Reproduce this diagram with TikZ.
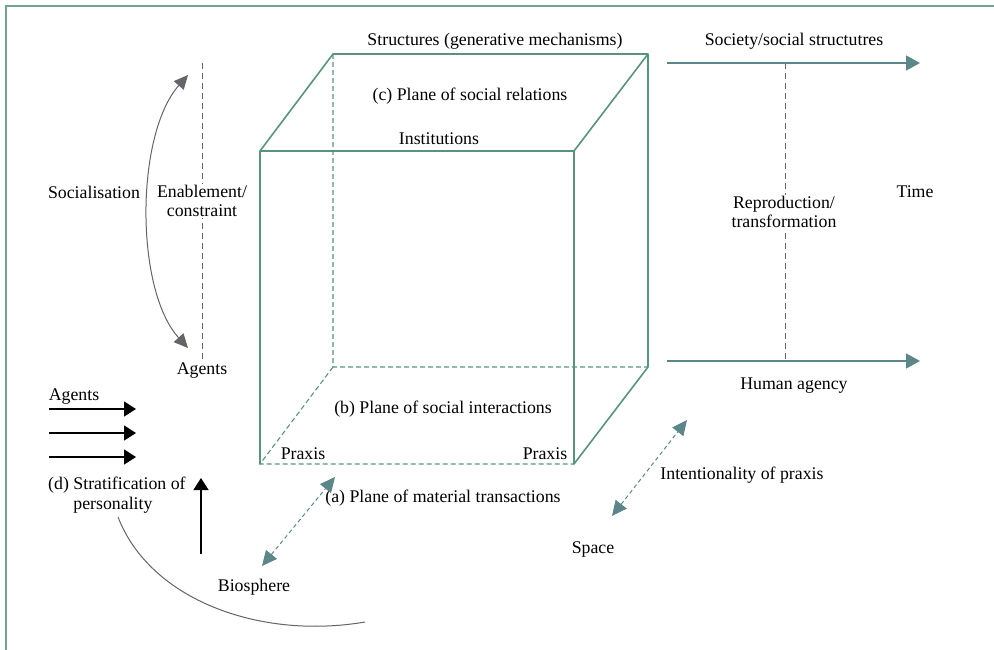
\documentclass[tikz,border=0pt]{standalone}
\usepackage{fontspec}
\setmainfont{Liberation Serif}
\usetikzlibrary{arrows.meta}
\definecolor{cubegreen}{RGB}{88,148,124}
\definecolor{arrowteal}{RGB}{92,135,138}
\definecolor{framegreen}{RGB}{110,165,145}
\definecolor{linegray}{RGB}{100,100,105}

\begin{document}
\begin{tikzpicture}[x=1pt,y=-1pt,
	lbl/.style={font=\fontsize{17.8}{19.5}\selectfont, inner sep=1pt, align=center},
	cube/.style={draw=cubegreen, line width=1.6pt, line join=round},
	hidden/.style={draw=cubegreen, line width=1.1pt, dash pattern=on 5pt off 3pt},
	flow/.style={draw=arrowteal, line width=1.7pt, -{Triangle[length=14pt,width=15pt]}},
	link/.style={draw=arrowteal, line width=1pt, dash pattern=on 4pt off 3pt,
		{Triangle[length=15pt,width=14pt]}-{Triangle[length=15pt,width=14pt]}},
	push/.style={draw=black, line width=1.4pt, -{Triangle[length=12pt,width=15pt]}},
	guide/.style={draw=linegray, line width=0.9pt, dash pattern=on 6pt off 4pt},
	curveline/.style={draw=linegray, line width=1pt}]
	\useasboundingbox (0,0) rectangle (994,650);
	\draw[framegreen, line width=1.5pt] (6,650) -- (6,6) -- (994,6);

	\coordinate (ftl) at (260,151); \coordinate (ftr) at (574,151);
	\coordinate (fbl) at (260,464); \coordinate (fbr) at (574,464);
	\coordinate (btl) at (333,54);  \coordinate (btr) at (648,54);
	\coordinate (bbl) at (333,367); \coordinate (bbr) at (648,367);
	\draw[hidden] (btl) -- (bbl) -- (bbr) (bbl) -- (fbl) -- (fbr);
	\draw[cube] (fbl) -- (ftl) -- (ftr) -- (fbr) -- (bbr) -- (btr) -- (btl) -- (ftl);
	\draw[cube] (ftr) -- (btr);

	\node[lbl] (struct) at (495,41) {Structures (generative mechanisms)};
	\node[lbl] (planec) at (470,96) {(c) Plane of social relations};
	\node[lbl] (inst) at (439,139) {Institutions};
	\node[lbl] (planeb) at (443,409) {(b) Plane of social interactions};
	\node[lbl] (praxl) at (303,454) {Praxis};
	\node[lbl] (praxr) at (545,454) {Praxis};
	\node[lbl] (planea) at (443,498) {(a) Plane of material transactions};
	\node[lbl] (bio) at (254,587) {Biosphere};
	\node[lbl] (space) at (593,549) {Space};
	\node[lbl] (intent) at (742,475) {Intentionality of praxis};

	\coordinate (s0) at (667,63); \coordinate (s1) at (920,63);
	\coordinate (h0) at (667,361); \coordinate (h1) at (920,361);
	\coordinate (r0) at (785,63); \coordinate (r1) at (785,361);
	\draw[guide] (r0) -- (r1);
	\draw[flow] (s0) -- (s1);
	\draw[flow] (h0) -- (h1);
	\node[lbl] (society) at (794,41) {Society/social structutres};
	\node[lbl] (human) at (794,386) {Human agency};
	\node[lbl,fill=white] (repro) at (784,212) {Reproduction/\\transformation};
	\node[lbl] (time) at (915,192) {Time};

	\coordinate (e0) at (202,63); \coordinate (e1) at (202,360);
	\draw[guide] (e0) -- (e1);
	\node[lbl] (social) at (94,192) {Socialisation};
	\node[lbl,fill=white] (enable) at (202,201) {Enablement/\\constraint};
	\node[lbl] (agtop) at (202,371) {Agents};
	\coordinate (a0) at (188,75); \coordinate (a1) at (188,348);
	\draw[curveline, {Triangle[length=14pt,width=13pt]}-{Triangle[length=14pt,width=13pt]}]
		(a0) .. controls (135,135) and (135,290) .. (a1);

	\node[lbl] (agleft) at (74,397) {Agents};
	\foreach \y in {409,433,457}
		\draw[push] (49,\y) -- (136,\y);
	\node[lbl,align=left,anchor=west] (strat) at (47,495) {(d) Stratification of\\\phantom{(d) }personality};
	\coordinate (u0) at (201,554); \coordinate (u1) at (201,478);
	\draw[push] (u0) -- (u1);
	\coordinate (c0) at (118,517); \coordinate (c1) at (365,622);
	\draw[curveline] (c0) .. controls (150,600) and (260,640) .. (c1);

	\coordinate (m0) at (262,566); \coordinate (m1) at (335,477);
	\coordinate (i0) at (612,516); \coordinate (i1) at (687,420);
	\draw[link] (m0) -- (m1);
	\draw[link] (i0) -- (i1);
\end{tikzpicture}
\end{document}
